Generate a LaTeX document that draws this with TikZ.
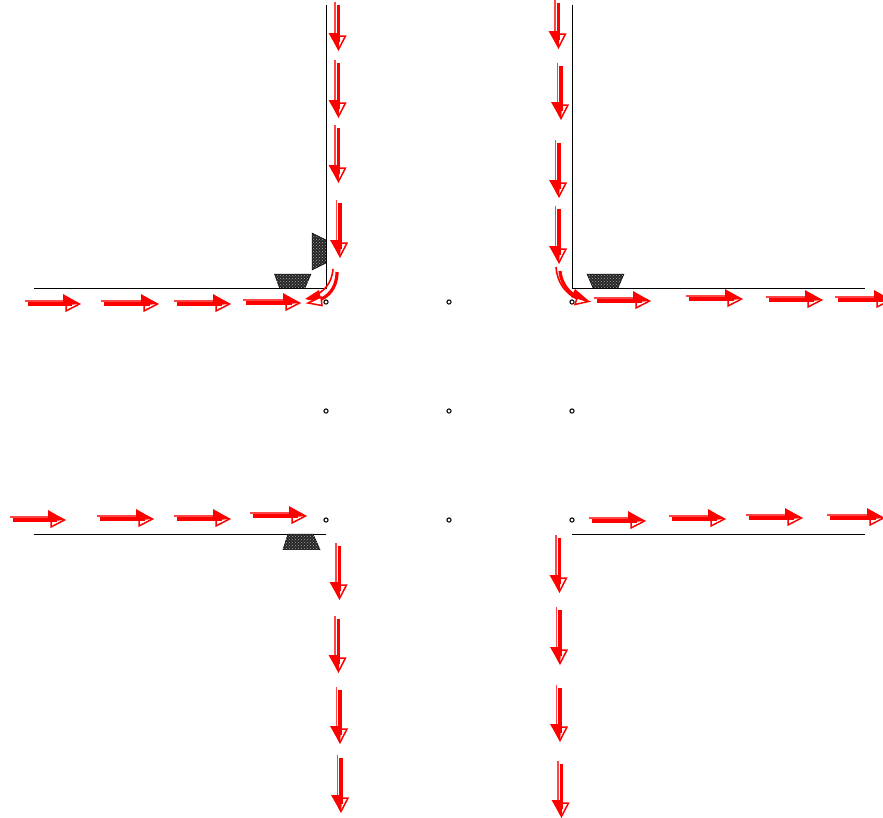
\documentclass[tikz,border=0pt]{standalone}
\usetikzlibrary{patterns}
\definecolor{softred}{RGB}{255,70,70}
\definecolor{pure}{RGB}{255,0,0}
\tikzset{
  wall/.style={draw=black,line width=0.9pt},
  lamp/.style={draw=black,line width=0.5pt,fill=black!85,postaction={pattern=crosshatch dots,pattern color=black!35}},
  spot/.style={draw=black,line width=1pt,fill=white},
  thinshaft/.style={draw=softred,line width=1.7pt},
  fatshaft/.style={draw=pure,line width=3.4pt},
  openhead/.style={draw=pure,line width=1.5pt,fill=white,line join=miter},
  solidhead/.style={fill=pure},
  curvethin/.style={draw=pure,line width=1.6pt},
  curvefat/.style={draw=pure,line width=3.2pt},
  alongx/.style={shift={#1}},
  alongy/.style={cm={0,-1,-1,0,#1}}
}
% #1 transform style, #2 tip, #3 length, #4 offset of the thin shaft
\newcommand{\flowarrow}[4]{%
  \begin{scope}[#1={#2}]
    \draw[thinshaft] (-#3,-#4) -- (-14,-#4);
    \draw[openhead] (-14,-7) -- (-0.5,0) -- (-14,7) -- cycle;
    \fill[solidhead] (-17,-10) -- (0,0) -- (-14,1.2) -- (-17,0) -- cycle;
    \draw[fatshaft] (-#3+3,0) -- (-8,0);
  \end{scope}}
\newcommand{\harr}[3]{\flowarrow{alongx}{(#1,#2)}{#3}{3}}
\newcommand{\varr}[3]{\flowarrow{alongy}{(#1,#2)}{#3}{3.4}}
\begin{document}
\begin{tikzpicture}[x=1pt,y=-1pt]
\useasboundingbox (0,0) rectangle (883,817);
\clip (0,0) rectangle (883,817);
% kerbs
\draw[wall] (34,288) -- (326,288) -- (326,5);
\draw[wall] (572,5) -- (572,288) -- (865,288);
\draw[wall] (34,534) -- (326,534);
\draw[wall] (572,534) -- (865,534);
% signal blocks
\draw[lamp] (274.5,274) -- (311,274) -- (305,288) -- (279.5,288) -- cycle;
\draw[lamp] (312,233) -- (326,240) -- (326,263) -- (312,270) -- cycle;
\draw[lamp] (587,274) -- (624,274) -- (618,288) -- (593,288) -- cycle;
\draw[lamp] (288,534) -- (313,534) -- (320,549.5) -- (283,549.5) -- cycle;
% reference points
\foreach \px in {326,449,572}
  \foreach \py in {302,411,520}
    \draw[spot] (\px,\py) circle (2.1);
% horizontal arrows
\harr{80}{304}{55}\harr{158}{304}{57}\harr{230}{304}{56}\harr{300}{303}{57}
\harr{650}{301}{56}\harr{742}{299}{56}\harr{822}{300}{56}\harr{891}{300}{56}
\harr{65}{520}{55}\harr{153}{519}{56}\harr{230}{519}{56}\harr{306}{516}{56}
\harr{645}{521}{56}\harr{725}{519}{56}\harr{802}{518}{56}\harr{884}{518}{57}
% vertical arrows
\varr{338.5}{50}{48}\varr{338.5}{117}{57}\varr{338.5}{182}{57}\varr{340}{257}{57}
\varr{558.5}{48}{48}\varr{561}{119}{56}\varr{559}{197}{57}\varr{559}{263}{57}
\varr{339.5}{599}{56}\varr{338.5}{672}{56}\varr{340}{743}{56}\varr{341}{812}{57}
\varr{559.5}{592}{57}\varr{560}{664}{57}\varr{560}{741}{56}\varr{561.5}{817}{56}
% turning arrow, upper left
\draw[curvethin] (333,269) .. controls (332,283) and (324,292) .. (312,297);
\draw[curvefat] (337,272) .. controls (337,288) and (328,298) .. (316,301);
\fill[pure] (305,299) -- (319,290) -- (322,303) -- cycle;
\draw[openhead,fill=white] (308,303) -- (321,297) -- (322,305.5) -- cycle;
% turning arrow, upper right
\draw[curvethin] (556,267) .. controls (557,282) and (565,293) .. (577,299);
\draw[curvefat] (560,271) .. controls (561,283) and (568,292) .. (577,297);
\fill[pure] (589,301) -- (575,289) -- (571,297) -- (578,299) -- cycle;
\draw[openhead,fill=white] (588.5,301.5) -- (577,298) -- (575,304.5) -- cycle;
\end{tikzpicture}
\end{document}
